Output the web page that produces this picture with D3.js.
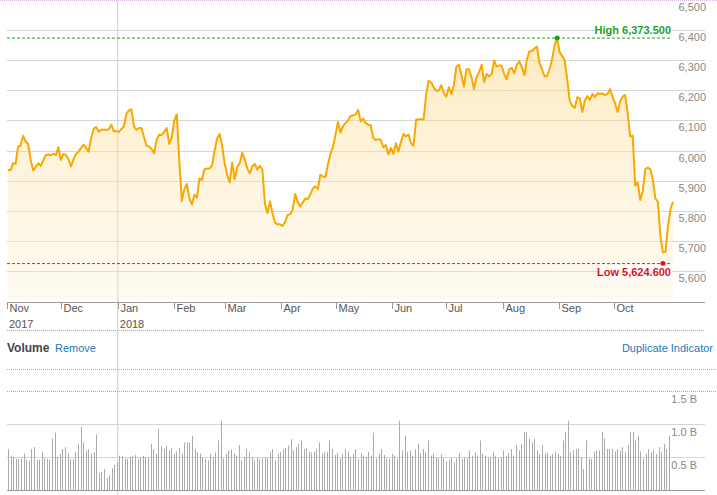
<!DOCTYPE html>
<html><head><meta charset="utf-8">
<script src="https://cdnjs.cloudflare.com/ajax/libs/d3/7.8.5/d3.min.js"></script>
<style>body{margin:0;background:#fff}svg{display:block;font-family:"Liberation Sans",Arial,sans-serif}</style>
</head><body><svg id="c" width="717" height="495"></svg>
<script>
const prices=[5936,5934,5958,5956,6013,6016,6049,6030,6022,5969,5934,5945,5958,5949,5967,5985,5987,5985,5989,5985,6011,5969,5989,5985,5971,5947,5971,5989,5996,6009,6020,6009,5996,6042,6073,6078,6062,6069,6069,6069,6071,6086,6064,6064,6062,6071,6080,6122,6133,6137,6080,6069,6075,6075,6044,6016,6013,6005,5991,6035,6053,6051,6062,6075,6022,6042,6100,6120,5969,5832,5872,5889,5841,5821,5854,5843,5907,5903,5938,5940,5940,5951,5998,6040,6055,6018,5958,5920,5894,5960,5905,5945,5958,5993,5971,5940,5925,5947,5956,5936,5949,5936,5823,5792,5832,5792,5761,5755,5755,5750,5763,5786,5788,5803,5856,5830,5814,5828,5841,5839,5854,5874,5881,5872,5920,5914,5912,5954,5989,6011,6053,6095,6060,6080,6091,6100,6115,6117,6120,6135,6097,6106,6091,6086,6084,6042,6035,6038,6035,6011,6018,5987,6009,5989,6024,5996,6029,6055,6047,6053,6024,6016,6102,6104,6104,6104,6186,6232,6226,6210,6199,6199,6217,6193,6179,6210,6188,6217,6279,6285,6252,6212,6270,6270,6243,6204,6243,6259,6285,6228,6254,6246,6254,6299,6279,6283,6281,6254,6237,6270,6274,6257,6285,6296,6277,6250,6303,6330,6330,6339,6345,6290,6270,6246,6248,6270,6303,6350,6373.5,6327,6314,6299,6237,6166,6148,6142,6177,6173,6128,6166,6181,6168,6188,6177,6190,6188,6190,6184,6188,6204,6179,6157,6128,6162,6179,6184,6124,6047,6049,5883,5894,5836,5865,5938,5943,5938,5903,5841,5830,5715,5662,5664,5748,5805,5830];
const volumes=[0.62,0.52,0.50,0.47,0.47,0.48,0.55,0.46,0.44,0.62,0.65,0.46,0.46,0.58,0.48,0.47,0.46,0.78,0.87,0.5,0.55,
0.62,0.65,0.55,0.47,0.47,0.58,0.70,0.96,0.72,0.60,0.62,0.55,0.57,0.84,0.25,0.28,0.32,0.18,0.22,0.33,0.38,
0.42,0.52,0.52,0.48,0.47,0.50,0.52,0.53,0.47,0.50,0.52,0.50,0.50,0.70,0.62,0.55,0.93,0.66,0.62,0.67,0.60,0.63,0.55,
0.58,0.64,0.55,0.72,0.72,0.72,0.82,0.62,0.57,0.55,0.50,0.47,0.45,0.55,0.50,0.57,0.75,1.05,0.48,
0.55,0.60,0.62,0.55,0.52,0.68,0.45,0.50,0.62,0.58,0.50,0.45,0.49,0.47,0.48,0.50,0.48,0.58,0.62,0.45,0.55,0.58,
0.62,0.64,0.67,0.77,0.60,0.65,0.70,0.75,0.62,0.63,0.58,0.57,0.58,0.62,0.72,0.55,0.57,0.58,0.75,0.62,0.53,
0.57,0.48,0.55,0.62,0.58,0.50,0.55,0.62,0.47,0.55,0.52,0.50,0.58,0.52,0.87,0.48,0.55,0.62,0.53,0.48,0.47,0.55,
0.52,0.48,1.05,0.60,0.82,0.58,0.60,0.52,0.62,0.70,0.55,0.62,0.57,0.75,0.52,0.55,0.50,0.48,0.54,0.48,0.44,
0.45,0.50,0.42,0.48,0.55,0.47,0.50,0.48,0.60,0.52,0.57,0.52,0.75,0.55,0.52,0.48,0.50,0.58,0.52,0.48,0.50,0.60,
0.52,0.56,0.62,0.52,0.68,0.60,0.70,0.88,0.88,0.78,0.72,0.77,0.60,0.55,0.68,0.55,0.57,0.52,0.55,0.58,0.55,0.52,0.75,
0.88,1.05,0.58,0.60,0.62,0.62,0.50,0.32,0.75,0.48,0.47,0.58,0.60,0.60,0.88,0.78,0.62,0.62,0.62,
0.58,0.62,0.60,0.65,0.57,0.68,0.88,0.88,0.75,0.82,0.58,0.48,0.55,0.62,0.57,0.60,0.55,0.65,0.58,0.70,0.62,0.82];
const priceTicks=[5600,5700,5800,5900,6000,6100,6200,6300,6400,6500];
const volTicks=[0.5,1.0,1.5];
const months=["2017-11-01","2017-12-01","2018-01-01","2018-02-01","2018-03-01","2018-04-01","2018-05-01","2018-06-01","2018-07-01","2018-08-01","2018-09-01","2018-10-01"];
const monthLabels=["Nov","Dec","Jan","Feb","Mar","Apr","May","Jun","Jul","Aug","Sep","Oct"];
const years=[["2017-11-01","2017"],["2018-01-01","2018"]];
const high=6373.5, low=5624.6;

const svg=d3.select("#c");
const y=d3.scaleLinear().domain([5600,6500]).range([271,0]);
const xi=d3.scaleLinear().domain([0,prices.length-1]).range([8,673]);
const xt=d3.scaleTime().domain([new Date(2017,10,1),new Date(2018,9,31)]).range([7,668]);
const xv=d3.scaleLinear().domain([0,volumes.length-1]).range([8,669]);
const yv=d3.scaleLinear().domain([0,1.5]).range([490,391]);

svg.append("line").attr("x1",0).attr("x2",717).attr("y1",0.5).attr("y2",0.5).attr("stroke","#d8b8d8").attr("stroke-dasharray","1,1");
svg.append("g").selectAll("line").data(priceTicks.filter(d=>d<6500)).join("line")
 .attr("x1",7).attr("x2",705).attr("y1",d=>Math.round(y(d))+0.5).attr("y2",d=>Math.round(y(d))+0.5).attr("stroke","#d4d8d4");
svg.append("g").selectAll("text").data(priceTicks).join("text")
 .attr("x",706).attr("y",d=>y(d)+11).attr("text-anchor","end").attr("font-size",11).attr("fill","#888")
 .text(d=>d3.format(",")(d));
svg.append("line").attr("x1",xt(new Date(2018,0,1))).attr("x2",xt(new Date(2018,0,1))).attr("y1",0).attr("y2",495).attr("stroke","#ccc");
const defs=svg.append("defs");
const gr=defs.append("linearGradient").attr("id","g").attr("x1",0).attr("x2",0).attr("y1",0).attr("y2",1);
gr.append("stop").attr("offset","0").attr("stop-color","#fbd88a").attr("stop-opacity",0.55);
gr.append("stop").attr("offset","1").attr("stop-color","#fff1d0").attr("stop-opacity",0.3);
svg.append("path").datum(prices).attr("fill","url(#g)")
 .attr("d",d3.area().x((d,i)=>xi(i)).y0(300).y1(d=>y(d)));
svg.append("path").datum(prices).attr("fill","none").attr("stroke","#f9a800").attr("stroke-width",2).attr("stroke-linejoin","round")
 .attr("d",d3.line().x((d,i)=>xi(i)).y(d=>y(d)));
const hi=prices.indexOf(high);
svg.append("line").attr("x1",7).attr("x2",672).attr("y1",y(high)).attr("y2",y(high)).attr("stroke","#1aa31a").attr("stroke-dasharray","3,2");
svg.append("circle").attr("cx",xi(hi)).attr("cy",y(high)).attr("r",2.5).attr("fill","#1aa31a");
svg.append("rect").attr("x",596).attr("y",y(high)-15).attr("width",76).attr("height",13).attr("fill","#fff");
svg.append("text").attr("x",671).attr("y",y(high)-4).attr("text-anchor","end").attr("font-size",11).attr("font-weight","bold").attr("fill","#1aa31a").text("High "+d3.format(",.3f")(high));
svg.append("line").attr("x1",7).attr("x2",672).attr("y1",y(low)).attr("y2",y(low)).attr("stroke","#e02020").attr("stroke-dasharray","3,2");
svg.append("circle").attr("cx",xi(prices.length-5)).attr("cy",y(low)).attr("r",2.5).attr("fill","#d11");
svg.append("rect").attr("x",598).attr("y",y(low)+2).attr("width",74).attr("height",13).attr("fill","#fff");
svg.append("text").attr("x",671).attr("y",y(low)+12).attr("text-anchor","end").attr("font-size",11).attr("font-weight","bold").attr("fill","#d11").text("Low "+d3.format(",.3f")(low));
svg.append("line").attr("x1",7).attr("x2",705).attr("y1",302.5).attr("y2",302.5).attr("stroke","#999");
const mg=svg.append("g").selectAll("g").data(months).join("g").attr("transform",(d)=>`translate(${Math.round(xt(new Date(d+"T00:00")))+0.5},0)`);
mg.append("line").attr("y1",303).attr("y2",309).attr("stroke","#999");
mg.append("text").attr("x",2).attr("y",312).attr("font-size",11).attr("fill","#555").text((d,i)=>monthLabels[i]);
svg.append("g").selectAll("text").data(years).join("text").attr("x",d=>xt(new Date(d[0]+"T00:00"))+2).attr("y",328).attr("font-size",11).attr("fill","#555").text(d=>d[1]);
svg.append("line").attr("x1",7).attr("x2",705).attr("y1",330.5).attr("y2",330.5).attr("stroke","#aaa").attr("stroke-dasharray","1,1");
svg.append("text").attr("x",7).attr("y",352).attr("font-size",12).attr("font-weight","bold").attr("fill","#444").text("Volume");
svg.append("text").attr("x",55).attr("y",352).attr("font-size",11).attr("fill","#1a7bc0").text("Remove");
svg.append("text").attr("x",713).attr("y",352).attr("text-anchor","end").attr("font-size",11).attr("fill","#1a7bc0").text("Duplicate Indicator");
[369.5,391.5].forEach(v=>svg.append("line").attr("x1",7).attr("x2",717).attr("y1",v).attr("y2",v).attr("stroke","#aaa").attr("stroke-dasharray","1,1"));
svg.append("g").selectAll("line").data([0.5,1.0]).join("line").attr("x1",7).attr("x2",705).attr("y1",d=>Math.round(yv(d))+0.5).attr("y2",d=>Math.round(yv(d))+0.5).attr("stroke","#d4d8d4");
svg.append("g").selectAll("line").data(volumes).join("line").attr("x1",(d,i)=>Math.round(xv(i))+0.5).attr("x2",(d,i)=>Math.round(xv(i))+0.5)
 .attr("y1",490).attr("y2",d=>yv(d)).attr("stroke","#aaa");
svg.append("g").selectAll("text").data(volTicks).join("text").attr("x",697).attr("y",d=>yv(d)+12).attr("text-anchor","end").attr("font-size",11).attr("fill","#888").text(d=>d.toFixed(1)+" B");
svg.append("line").attr("x1",7).attr("x2",705).attr("y1",490.5).attr("y2",490.5).attr("stroke","#999");
</script></body></html>
